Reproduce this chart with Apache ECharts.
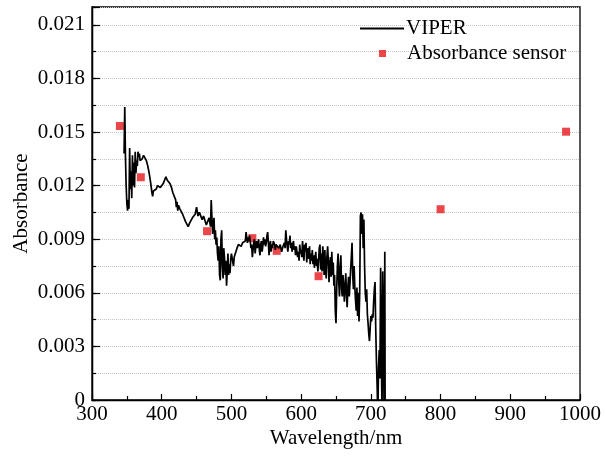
<!DOCTYPE html>
<html>
<head>
<meta charset="utf-8">
<script src="https://cdn.jsdelivr.net/npm/echarts@6/dist/echarts.min.js"></script>
<style>
  html, body { margin: 0; padding: 0; background: #fff; }
  #chart { width: 605px; height: 456px; }
</style>
</head>
<body>
<div id="chart"></div>
<script>
// VIPER spectrum, [wavelength nm, absorbance]
const viperUV = [
  [346, 0.0138], [347, 0.0164], [348, 0.0136], [349, 0.0120], [350, 0.0110], [351, 0.0106],
  [352, 0.0112], [353, 0.0107], [354, 0.0141], [355, 0.0118], [356, 0.0128], [357, 0.0113],
  [358, 0.0137], [359, 0.0120], [360, 0.0133], [361, 0.0119], [362, 0.0139], [363, 0.0127],
  [364, 0.0134], [365, 0.0131], [366, 0.0139], [367, 0.0136], [368, 0.0138], [369, 0.0134],
  [370, 0.0135], [372, 0.0135], [374, 0.0137], [376, 0.0136], [378, 0.0134], [380, 0.0131],
  [382, 0.0127], [384, 0.0122], [386, 0.0116], [387, 0.0114], [388, 0.0117], [390, 0.0116],
  [392, 0.0118], [394, 0.0120], [396, 0.0121], [398, 0.0119], [400, 0.0120], [402, 0.0121],
  [404, 0.0122], [406, 0.0125], [408, 0.0123], [410, 0.0122], [412, 0.0121], [414, 0.0119],
  [416, 0.0116], [418, 0.0114], [420, 0.0112], [421, 0.0108], [422, 0.0111], [423, 0.0106],
  [424, 0.0109], [426, 0.0107], [428, 0.0106], [430, 0.0104], [432, 0.0102], [434, 0.0100],
  [436, 0.0099], [438, 0.0097], [440, 0.0099], [442, 0.0100], [444, 0.0102], [446, 0.0103],
  [448, 0.0104], [450, 0.0108], [452, 0.0103], [454, 0.0105], [456, 0.0104], [458, 0.0101],
  [460, 0.0103], [462, 0.0104], [464, 0.0098], [466, 0.0099], [468, 0.0102], [470, 0.0097]
];
const viperBlue = [
  [471, 0.0112], [472, 0.0113], [473, 0.0093], [474, 0.0098], [475, 0.0102], [476, 0.0090],
  [477, 0.0095], [478, 0.0087], [479, 0.0091], [480, 0.0082], [481, 0.0078], [482, 0.0086],
  [483, 0.0070], [484, 0.0067], [485, 0.0090], [486, 0.0095], [487, 0.0075], [488, 0.0068],
  [489, 0.0085], [490, 0.0080], [491, 0.0070], [492, 0.0078], [493, 0.0064], [494, 0.0072],
  [495, 0.0082], [496, 0.0070], [497, 0.0076], [498, 0.0071], [499, 0.0079], [500, 0.0082],
  [502, 0.0077], [503, 0.0075], [504, 0.0080], [506, 0.0081], [508, 0.0085], [510, 0.0087],
  [512, 0.0088], [514, 0.0086], [516, 0.0088], [518, 0.0087], [520, 0.0089], [521, 0.0094],
  [522, 0.0095], [523, 0.0088], [524, 0.0091], [525, 0.0089], [526, 0.0092], [527, 0.0089],
  [528, 0.0085], [529, 0.0087], [530, 0.0080], [531, 0.0079], [532, 0.0088], [533, 0.0090],
  [534, 0.0082], [535, 0.0086], [536, 0.0089], [537, 0.0085], [538, 0.0087], [539, 0.0090],
  [540, 0.0084], [541, 0.0081], [542, 0.0087], [543, 0.0089], [544, 0.0083], [545, 0.0086],
  [546, 0.0091], [547, 0.0087], [548, 0.0090], [549, 0.0086], [550, 0.0088], [551, 0.0092],
  [552, 0.0094], [553, 0.0088], [554, 0.0081], [555, 0.0087], [556, 0.0089], [557, 0.0083],
  [558, 0.0087], [559, 0.0085], [560, 0.0089], [562, 0.0087], [563, 0.0084], [564, 0.0087],
  [566, 0.0086], [568, 0.0085], [570, 0.0087], [572, 0.0083], [574, 0.0086], [576, 0.0088]
];
const viperRed = [
  [577, 0.0085], [578, 0.0095], [579, 0.0090], [580, 0.0086], [581, 0.0083], [582, 0.0089],
  [583, 0.0087], [584, 0.0092], [585, 0.0085], [586, 0.0088], [587, 0.0083], [588, 0.0087],
  [589, 0.0089], [590, 0.0084], [591, 0.0086], [592, 0.0081], [593, 0.0086], [594, 0.0085],
  [595, 0.0080], [596, 0.0083], [597, 0.0078], [598, 0.0087], [599, 0.0082], [600, 0.0084],
  [601, 0.0080], [602, 0.0089], [603, 0.0082], [604, 0.0078], [605, 0.0087], [606, 0.0083],
  [607, 0.0088], [608, 0.0077], [609, 0.0083], [610, 0.0085], [611, 0.0079], [612, 0.0086],
  [613, 0.0076], [614, 0.0082], [615, 0.0078], [616, 0.0084], [617, 0.0076], [618, 0.0081],
  [619, 0.0074], [620, 0.0079], [621, 0.0083], [622, 0.0075], [623, 0.0079], [624, 0.0072],
  [625, 0.0078], [626, 0.0085], [627, 0.0087], [628, 0.0073], [629, 0.0082], [630, 0.0072],
  [631, 0.0086], [632, 0.0079], [633, 0.0070], [634, 0.0084], [635, 0.0073], [636, 0.0068],
  [637, 0.0080], [638, 0.0086], [639, 0.0078], [640, 0.0066], [641, 0.0075], [642, 0.0080],
  [643, 0.0069], [644, 0.0083], [645, 0.0070], [646, 0.0077], [647, 0.0064], [648, 0.0070]
];
const viperNIR = [
  [649, 0.0050], [650, 0.0043], [651, 0.0062], [652, 0.0075], [653, 0.0082], [654, 0.0066],
  [655, 0.0058], [656, 0.0075], [657, 0.0081], [658, 0.0062], [659, 0.0058], [660, 0.0070],
  [661, 0.0065], [662, 0.0055], [663, 0.0062], [664, 0.0071], [665, 0.0060], [666, 0.0052],
  [667, 0.0063], [668, 0.0069], [669, 0.0058], [670, 0.0065], [671, 0.0073], [672, 0.0080],
  [673, 0.0088], [674, 0.0070], [675, 0.0062], [676, 0.0075], [677, 0.0063], [678, 0.0056],
  [679, 0.0050], [680, 0.0063], [681, 0.0047], [682, 0.0060], [683, 0.0044], [684, 0.0060],
  [685, 0.0103], [686, 0.0105], [687, 0.0093], [688, 0.0104], [689, 0.0085], [690, 0.0101],
  [691, 0.0075], [692, 0.0060], [693, 0.0055], [694, 0.0062], [695, 0.0048], [696, 0.0043],
  [697, 0.0037], [698, 0.0033], [699, 0.0040], [700, 0.0047], [701, 0.0044], [702, 0.0048],
  [703, 0.0046], [704, 0.0055], [705, 0.0062], [706, 0.0066], [707, 0.0040], [708, 0.0022],
  [709, 0.0008], [710, -0.0010], [711, 0.0018], [712, 0.0028], [713, 0.0012], [714, 0.0074],
  [715, 0.0030], [716, -0.0010], [717, 0.0072], [718, 0.0045], [719, -0.0010], [720, 0.0083],
  [720.5, -0.0010]
];

// absorbance sensor channels
const sensorNm = [340, 370, 465, 530, 565, 625, 800, 980];
const sensorAbs = [0.01534, 0.01247, 0.00945, 0.00906, 0.00835, 0.00693, 0.01068, 0.01502];

const yLabels = ['0', '0.003', '0.006', '0.009', '0.012', '0.015', '0.018', '0.021'];

const viperData = viperUV.concat(viperBlue, viperRed, viperNIR);
const sensorData = sensorNm.map((x, i) => [x, sensorAbs[i]]);

const font = 'Liberation Serif';
const txt = { fontFamily: font, fontSize: 21, color: '#000' };

let myChart = echarts.init(document.getElementById('chart'));
myChart.setOption({
  backgroundColor: '#fff',
  animation: false,
  grid: {
    left: 92, right: 25, top: 7, bottom: 56,
    outerBoundsMode: 'none',
    containLabel: false,
    show: true, borderColor: '#000', borderWidth: 1.3
  },
  legend: [
    {
      data: ['VIPER'],
      left: 355, top: 13,
      icon: 'rect',
      itemWidth: 44, itemHeight: 2,
      itemGap: 0,
      textStyle: Object.assign({ padding: [0, 0, 0, -3] }, txt)
    },
    {
      data: ['Absorbance sensor'],
      left: 374, top: 38,
      itemWidth: 7, itemHeight: 7,
      icon: 'rect',
      textStyle: Object.assign({ padding: [0, 0, 0, 16] }, txt)
    }
  ],
  xAxis: {
    type: 'value',
    min: 300, max: 1000, interval: 100,
    name: 'Wavelength/nm',
    nameLocation: 'middle', nameGap: 28,
    nameMoveOverlap: false,
    nameTextStyle: txt,
    axisLine: { lineStyle: { color: '#000', width: 1.3 } },
    axisTick: { inside: true, length: 6, lineStyle: { color: '#000', width: 1.2 } },
    minorTick: { show: true, splitNumber: 2, length: 4, lineStyle: { color: '#000', width: 1.2 } },
    axisLabel: Object.assign({ margin: 4, formatter: (v) => String(v) }, txt),
    splitLine: { show: false }
  },
  yAxis: [
    {
      type: 'value',
      min: 0, max: 0.022, interval: 0.0015,
      axisLine: { show: true, lineStyle: { color: '#000', width: 1.3 } },
      axisTick: { inside: true, length: 4, lineStyle: { color: '#000', width: 1.2 } },
      axisLabel: { show: false },
      splitLine: { show: true, lineStyle: { color: '#c4c4c4', type: 'dotted', width: 1 } }
    },
    {
      type: 'value',
      position: 'left',
      min: 0, max: 0.022, interval: 0.003,
      name: 'Absorbance',
      nameLocation: 'middle', nameGap: 60,
      nameMoveOverlap: false,
      nameTextStyle: txt,
      axisLine: { show: true, lineStyle: { color: '#000', width: 1.3 } },
      axisTick: { inside: true, length: 8, lineStyle: { color: '#000', width: 1.2 } },
      axisLabel: Object.assign({
        margin: 7,
        formatter: function (v) {
          const i = Math.round(v / 0.003);
          return Math.abs(v - i * 0.003) < 1e-9 && i < yLabels.length ? yLabels[i] : '';
        }
      }, txt),
      splitLine: { show: false }
    }
  ],
  series: [
    {
      name: 'VIPER',
      type: 'line',
      yAxisIndex: 0,
      data: viperData,
      showSymbol: false,
      symbol: 'none',
      clip: true,
      lineStyle: { color: '#000', width: 1.7 },
      itemStyle: { color: '#000' }
    },
    {
      name: 'Absorbance sensor',
      type: 'scatter',
      yAxisIndex: 0,
      data: sensorData,
      symbol: 'rect',
      symbolSize: 8,
      itemStyle: { color: '#e6191e' }
    }
  ]
});
</script>
</body>
</html>
